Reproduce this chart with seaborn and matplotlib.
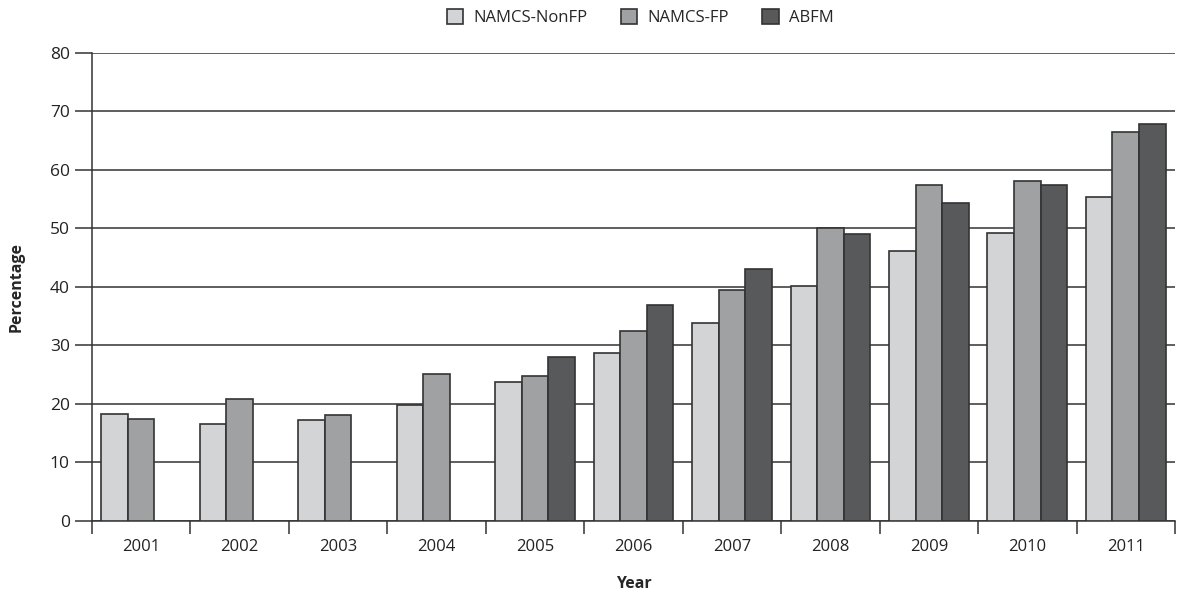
import pandas as pd
import matplotlib.pyplot as plt
import seaborn as sns
import numpy as np

years = ["2001", "2002", "2003", "2004", "2005", "2006",
         "2007", "2008", "2009", "2010", "2011"]
namcs_nonfp = [18.3, 16.6, 17.2, 19.9, 23.8, 28.7, 33.8, 40.2, 46.2, 49.3, 55.3]
namcs_fp = [17.5, 20.8, 18.2, 25.1, 24.8, 32.5, 39.4, 50.0, 57.5, 58.1, 66.5]
abfm = [np.nan, np.nan, np.nan, np.nan, 28.0, 37.0, 43.1, 49.1, 54.4, 57.4, 67.9]

series_names = ["NAMCS-NonFP", "NAMCS-FP", "ABFM"]
colors = ["#d3d4d6", "#a0a1a3", "#58595b"]


def build_frame():
    rows = []
    for name, vals in zip(series_names, [namcs_nonfp, namcs_fp, abfm]):
        for y, v in zip(years, vals):
            rows.append({"Year": y, "Source": name, "Percentage": v})
    return pd.DataFrame(rows)


def main() -> None:
    df = build_frame()

    sns.set_style("white")
    plt.rcParams["font.family"] = ["Open Sans", "DejaVu Sans"]

    fig = plt.figure(figsize=(11.79, 5.95), dpi=100)
    ax = fig.add_axes([0.078, 0.1244, 0.9186, 0.7866])

    sns.barplot(
        data=df, x="Year", y="Percentage", hue="Source",
        hue_order=series_names, palette=colors, order=years,
        width=0.81, edgecolor="#333333", linewidth=1.2,
        errorbar=None, ax=ax, zorder=3,
    )

    ax.set_ylim(0, 80)
    ax.set_xlim(-0.5, len(years) - 0.5)
    ax.set_yticks(range(0, 81, 10))
    ax.yaxis.grid(True, color="#333333", linewidth=1.1, zorder=0)
    ax.set_axisbelow(True)

    # tick marks between the year groups
    ax.set_xticks(np.arange(-0.5, len(years), 1.0), minor=True)
    ax.tick_params(axis="x", which="major", length=0, labelsize=12,
                   pad=13, colors="#222222")
    ax.tick_params(axis="x", which="minor", length=9, width=1.1,
                   color="#333333", direction="out", bottom=True)
    ax.tick_params(axis="y", length=12, width=1.1, color="#333333",
                   direction="out", left=True, labelsize=12.5,
                   colors="#222222", pad=4)

    for side in ["top", "right"]:
        ax.spines[side].set_visible(False)
    for side in ["left", "bottom"]:
        ax.spines[side].set_color("#333333")
        ax.spines[side].set_linewidth(1.1)

    ax.set_xlabel("Year", fontsize=11.5, fontweight="bold", labelpad=15)
    ax.set_ylabel("Percentage", fontsize=11.5, fontweight="bold", labelpad=18)

    handles, labels = ax.get_legend_handles_labels()
    ax.get_legend().remove()
    fig.legend(handles, labels, loc="upper center", bbox_to_anchor=(0.543, 1.01),
               ncol=3, frameon=False, fontsize=12, handlelength=1.0,
               handleheight=1.0, columnspacing=2.0, handletextpad=0.6)

    plt.savefig("out.png", dpi=100)


if __name__ == "__main__":
    main()
